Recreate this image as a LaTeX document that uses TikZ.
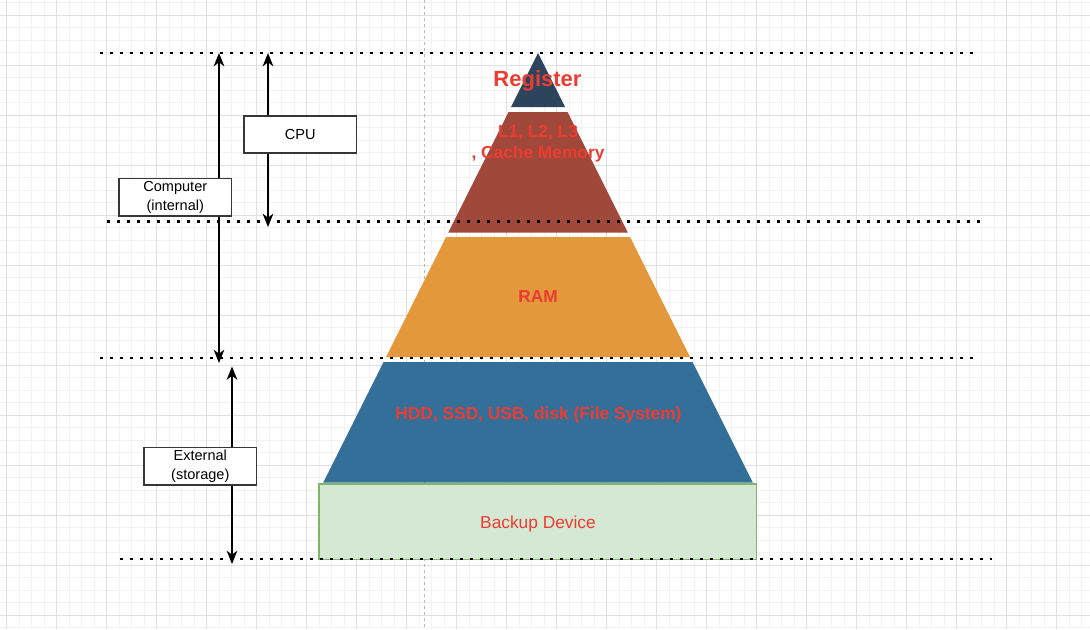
\documentclass[tikz,border=0pt]{standalone}
\usepackage{fontspec}
\setmainfont{Liberation Sans}
\usetikzlibrary{arrows.meta}
\definecolor{regblue}{HTML}{2C445C}
\definecolor{cachered}{HTML}{A0483A}
\definecolor{ramorange}{HTML}{E3983C}
\definecolor{hddblue}{HTML}{336F99}
\definecolor{backfill}{HTML}{D5E8D4}
\definecolor{backline}{HTML}{82B366}
\definecolor{textred}{HTML}{EC3C32}
\definecolor{boxgray}{HTML}{363636}
\tikzset{font=\fontsize{10.9}{13.9}\selectfont}
\tikzset{
  gridminor/.style={line width=.75pt,draw=black!5},
  gridmajor/.style={line width=.75pt,draw=black!12},
  level/.style={line width=2pt,dash pattern=on 2pt off 5.5pt},
  span/.style={line width=1.1pt,
    {Stealth[length=10pt,width=8pt,inset=3pt]}-{Stealth[length=10pt,width=8pt,inset=3pt]}},
  box/.style={draw=boxgray,line width=1.1pt,fill=white,align=center,
    minimum width=84.5pt,minimum height=28pt,inner sep=0pt},
  layer/.style={text=textred,align=center,
    font=\bfseries\fontsize{13}{15.75}\selectfont}
}

\begin{document}
\begin{tikzpicture}[x=.75pt,y=-.75pt]
  \useasboundingbox[fill=white] (0,0) rectangle (1090,629);
  % canvas grid
  \foreach \gx in {6.7,19.2,...,1090} \draw[gridminor] (\gx,0)--(\gx,629);
  \foreach \gy in {2.5,15,...,629} \draw[gridminor] (0,\gy)--(1090,\gy);
  \foreach \gx in {6.7,56.7,...,1090} \draw[gridmajor] (\gx,0)--(\gx,629);
  \foreach \gy in {15,65,...,629} \draw[gridmajor] (0,\gy)--(1090,\gy);
  \draw[line width=.75pt,black!28,dash pattern=on 2.25pt off 2.25pt]
  (424.5,0)--(424.5,629);
  % pyramid
  \fill[regblue] (538,53)--(565,107)--(511,107)--cycle;
  \fill[cachered] (508.5,112)--(567.5,112)--(627.75,232.5)--(448.25,232.5)--cycle;
  \fill[ramorange] (446,237)--(630,237)--(690,357)--(386,357)--cycle;
  \fill[hddblue] (383.5,362)--(692.5,362)--(752.75,482.5)--(323.25,482.5)--cycle;
  \draw[backline,fill=backfill,line width=1pt] (319,484) rectangle (756.5,559.5);
  \node[layer,font=\bfseries\fontsize{16.5}{19}\selectfont] (register) at (537.5,81)
  {Register};
  \node[layer] (cache) at (538,144) {L1, L2, L3\\, Cache Memory};
  \node[layer] (ram) at (538,296.5) {RAM};
  \node[layer] (hdd) at (538.5,415) {HDD, SSD, USB, disk (File System)};
  \node[text=textred,font=\fontsize{13}{15.75}\selectfont] (backup) at (538,524)
  {Backup Device};
  % levels
  \draw[level] (100,53)--(975,53);
  \draw[level] (107,221.5)--(980,221.5);
  \draw[level] (100,358)--(975,358);
  \draw[level] (120,559)--(992,559);
  % spans
  \coordinate (comptop) at (219,53);
  \coordinate (compbot) at (219,363);
  \coordinate (cputop) at (268,53);
  \coordinate (cpubot) at (268,227);
  \coordinate (exttop) at (232,366.5);
  \coordinate (extbot) at (232,564);
  \draw[span] (comptop)--(compbot);
  \draw[span] (cputop)--(cpubot);
  \draw[span] (exttop)--(extbot);
  \node[box] (cpu) at (300.3,134.5) {CPU};
  \node[box] (computer) at (175.3,197.2) {Computer\\(internal)};
  \node[box] (external) at (200.3,466.2) {External\\(storage)};
\end{tikzpicture}
\end{document}
